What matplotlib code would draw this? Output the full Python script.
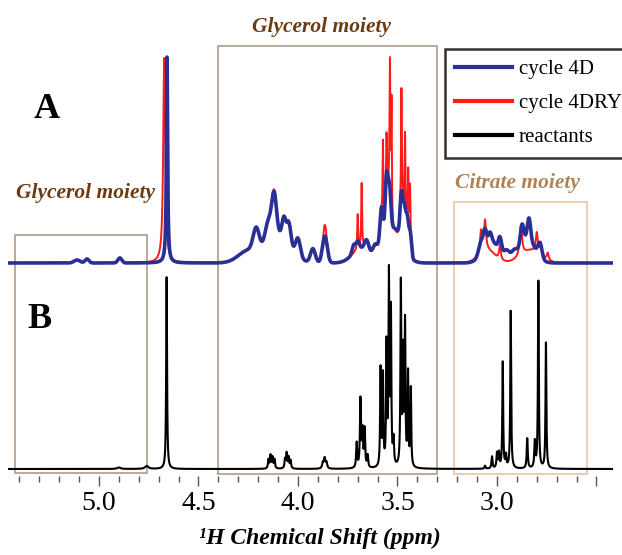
import numpy as np
import matplotlib
matplotlib.use("Agg")
import matplotlib.pyplot as plt
from matplotlib.patches import Rectangle
from matplotlib.lines import Line2D

plt.rcParams['font.family'] = ['Liberation Serif', 'DejaVu Serif']

# ---------------- data: peak lists (ppm, height, half-width, lorentzian fraction) ----------------
blue_ppm = [5.11, 5.06, 4.895, 4.658,
            4.25, 4.10, 4.21, 4.15, 4.12, 4.07, 4.045, 4.00, 3.925, 3.865,
            3.68, 3.72, 3.70, 3.655, 3.61,
            3.52, 3.58, 3.555, 3.54, 3.48, 3.465, 3.45, 3.435,
            3.03, 2.85, 3.08, 3.06, 3.035, 2.985, 2.95, 2.915, 2.874, 2.839, 2.784]
blue_h = [3, 4, 5, 206,
          12, 28, 22, 20, 42, 21, 21, 18, 14, 27,
          15, 8, 8, 10, 10,
          35, 40, 60, 42, 45, 35, 33, 22,
          22, 25, 12, 15, 9, 14, 9, 6, 18, 21, 14]
blue_w = [0.015, 0.01, 0.01, 0.0035,
          0.05, 0.06, 0.015, 0.015, 0.012, 0.01, 0.01, 0.012, 0.012, 0.012,
          0.045, 0.008, 0.008, 0.01, 0.012,
          0.045, 0.008, 0.007, 0.007, 0.007, 0.007, 0.007, 0.006,
          0.04, 0.04, 0.012, 0.008, 0.008, 0.008, 0.015, 0.012, 0.008, 0.008, 0.01]
blue_lor = [0, 0, 0, 1,
            0, 0, 0, 0, 0, 0, 0, 0, 0, 0,
            0, 0, 0, 0, 0,
            0, 0, 0, 0, 0, 0, 0, 0,
            0, 0, 0, 0, 0, 0, 0, 0, 0, 0, 0]

red_ppm = [5.11, 5.06, 4.895, 4.672,
           4.25, 4.10, 4.21, 4.15, 4.12, 4.07, 4.045, 4.00, 3.925, 3.865,
           3.68, 3.655, 3.61, 3.70, 3.68,
           3.52, 3.58, 3.555, 3.54, 3.48, 3.465, 3.45, 3.435,
           3.573, 3.555, 3.538, 3.53, 3.48, 3.462, 3.446, 3.437,
           3.05, 2.83, 3.08, 3.06, 2.985, 2.88, 2.80, 2.78, 2.745]
red_h = [3, 4, 5, 205,
         12, 28, 20, 20, 44, 22, 23, 18, 14, 38,
         14, 8, 9, 35, 65,
         30, 35, 50, 38, 40, 30, 28, 18,
         80, 50, 130, 115, 110, 80, 55, 48,
         12, 12, 22, 30, 15, 30, 20, 12, 7]
red_w = [0.015, 0.01, 0.01, 0.006,
         0.05, 0.06, 0.015, 0.015, 0.012, 0.01, 0.01, 0.012, 0.012, 0.01,
         0.045, 0.01, 0.012, 0.0025, 0.0025,
         0.045, 0.008, 0.007, 0.007, 0.007, 0.007, 0.007, 0.006,
         0.0022, 0.0022, 0.0022, 0.0022, 0.0022, 0.0022, 0.0022, 0.0022,
         0.04, 0.05, 0.006, 0.006, 0.005, 0.007, 0.006, 0.005, 0.005]
red_lor = [0, 0, 0, 1,
           0, 0, 0, 0, 0, 0, 0, 0, 0, 0,
           0, 0, 0, 1, 1,
           0, 0, 0, 0, 0, 0, 0, 0,
           1, 1, 1, 1, 1, 1, 1, 1,
           0, 0, 1, 1, 1, 1, 1, 1, 1]

black_ppm = [4.90, 4.76, 4.66,
             4.148, 4.138, 4.128, 4.118, 4.065, 4.057, 4.047, 4.037,
             3.875, 3.866, 3.857,
             3.705, 3.686, 3.676, 3.665, 3.65,
             3.585, 3.573, 3.555, 3.543, 3.533, 3.52,
             3.483, 3.472, 3.462, 3.447, 3.433,
             3.06, 3.025, 3.00, 2.99, 2.971, 2.955, 2.931, 2.848, 2.81, 2.792, 2.754]
black_h = [1.5, 3, 192,
           9, 13, 11, 9, 9, 15, 11, 8,
           6, 10, 6,
           25, 68, 35, 38, 12,
           98, 90, 120, 188, 152, 25,
           183, 110, 142, 92, 78,
           3, 12, 15, 15, 106, 12, 158, 30, 26, 187, 126]
black_w = [0.01, 0.01, 0.0025,
           0.003, 0.003, 0.003, 0.003, 0.003, 0.003, 0.003, 0.003,
           0.004, 0.004, 0.004,
           0.003, 0.003, 0.003, 0.003, 0.003,
           0.0025, 0.0025, 0.0025, 0.0025, 0.0025, 0.003,
           0.0025, 0.0025, 0.0025, 0.0025, 0.0025,
           0.003, 0.003, 0.003, 0.003, 0.0025, 0.003, 0.0025, 0.003, 0.003, 0.0025, 0.0025]

series_labels = ['cycle 4D', 'cycle 4DRY', 'reactants']
tick_values = [5.0, 4.5, 4.0, 3.5, 3.0, 2.5]
tick_labels = ['5.0', '4.5', '4.0', '3.5', '3.0', '']

# ---------------- build spectra ----------------
x = np.linspace(5.457, 2.417, 9000)


def spectrum(ppm, h, w, lor=None):
    y = np.zeros_like(x)
    if lor is None:
        lor = [1] * len(ppm)
    for p, hh, ww, eta in zip(ppm, h, w, lor):
        d = (x - p) / ww
        shape = eta / (1.0 + d ** 2) + (1 - eta) * np.exp(-0.5 * d ** 2)
        y += hh * shape
    return y


off_A = 213
off_B = 7
y_blue = spectrum(blue_ppm, blue_h, blue_w, blue_lor) + off_A
y_red = spectrum(red_ppm, red_h, red_w, red_lor) + off_A
y_black = spectrum(black_ppm, black_h, black_w) + off_B

W, H = 622, 555
fig = plt.figure(figsize=(W / 100, H / 100), dpi=100)
ax = fig.add_axes([8 / W, (H - 476) / H, 605 / W, 476 / H])
ax.set_xlim(5.457, 2.417)
ax.set_ylim(0, 476)

ax.plot(x, y_red, color='#ff1a1a', lw=1.4, zorder=3)
ax.plot(x, y_blue, color='#2a2f96', lw=2.6, zorder=4)
ax.plot(x, y_black, color='black', lw=1.5, zorder=3)

for s in ax.spines.values():
    s.set_visible(False)
ax.set_yticks([])
ax.set_xticks(tick_values)
ax.set_xticklabels(tick_labels, fontsize=20)
ax.set_xticks(np.arange(5.4, 2.45, -0.1), minor=True)
ax.tick_params(axis='x', which='major', length=7, width=1, color='#555555', pad=4)
ax.tick_params(axis='x', which='minor', length=4, width=1, color='#555555')
ax.patch.set_alpha(0)


def px2data_x(px):
    return 5.457 - (px - 8) / 199.0


def px2data_y(py):
    return 476 - py


def box(x0, x1, y0, y1, color):
    ax.add_patch(Rectangle((px2data_x(x0), px2data_y(y1)),
                           px2data_x(x1) - px2data_x(x0), y1 - y0,
                           fill=False, edgecolor=color, lw=1.3, zorder=2))


box(15, 147, 235, 473, '#b9a392')
box(218, 437, 46, 474, '#b9a392')
box(454, 587, 202, 474, '#ebcaa6')


def ftext(px, py, s, **kw):
    fig.text(px / W, 1 - py / H, s, ha='center', va='center', **kw)


ftext(47, 109, 'A', fontsize=26, fontweight='bold')
ftext(40, 320, 'B', fontsize=26, fontweight='bold')
ftext(322, 27, 'Glycerol moiety', fontsize=15.5, fontweight='bold', style='italic', color='#6b3c14')
ftext(85, 193, 'Glycerol moiety', fontsize=15.5, fontweight='bold', style='italic', color='#6b3c14')
ftext(517, 183, 'Citrate moiety', fontsize=15.5, fontweight='bold', style='italic', color='#b08452')
ftext(320, 538, '¹H Chemical Shift (ppm)', fontsize=17, fontweight='bold', style='italic')

handles = [Line2D([], [], color='#2a2f96', lw=3),
           Line2D([], [], color='#ff1a1a', lw=3),
           Line2D([], [], color='black', lw=3)]
leg = fig.legend(handles, series_labels, loc='upper left',
                 bbox_to_anchor=(445 / W, 1 - 49 / H), fontsize=15,
                 frameon=True, fancybox=False, edgecolor='black',
                 handlelength=2.7, handletextpad=0.35, labelspacing=0.7,
                 borderpad=0.5, borderaxespad=0)
leg.get_frame().set_linewidth(1.8)

fig.savefig('out.png', dpi=100)
